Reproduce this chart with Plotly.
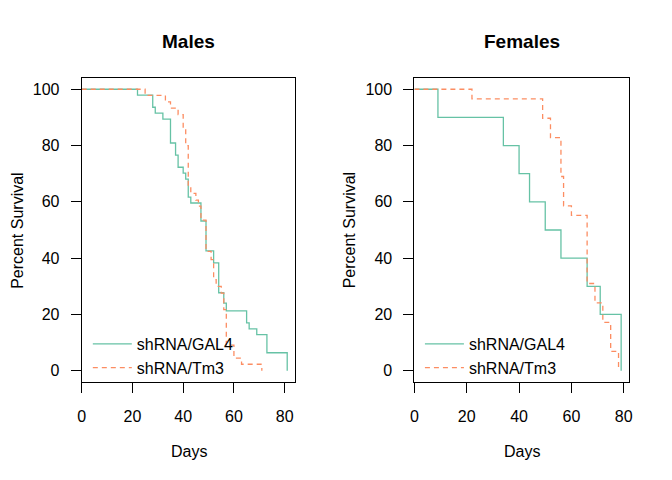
import plotly.graph_objects as go

# ---- data ----
# Males
male_gal4_days = [0, 22, 28, 29, 32, 35, 37, 38, 40, 41, 42, 43, 47, 49, 52, 54, 56, 57, 65, 66, 69, 73, 81]
male_gal4_surv = [100, 97.9, 93.6, 91.5, 89.4, 80.9, 76.6, 72.3, 70.2, 68.1, 61.7, 59.6, 53.2, 42.6, 38.3, 27.7, 24.0, 21.3, 17.0, 14.9, 12.8, 6.4, 0]
male_tm3_days = [0, 25, 33, 35, 38, 40, 41, 42, 43, 45, 46, 47, 49, 51, 52, 53, 55, 56, 57, 60, 63, 71]
male_tm3_surv = [100, 97.8, 95.5, 93.3, 91.0, 86.2, 80.0, 65.6, 63.0, 60.6, 58.5, 53.5, 42.4, 39.5, 32.4, 30.0, 27.6, 21.7, 9.1, 4.5, 2.3, 0]
# Females
female_gal4_days = [0, 9, 34, 40, 44, 50, 56, 66, 71, 79]
female_gal4_surv = [100, 90, 80, 70, 60, 50, 40, 30, 20, 0]
female_tm3_days = [0, 22, 49, 52, 56, 57, 60, 66, 69, 72, 75, 78]
female_tm3_surv = [100, 96.6, 89.7, 82.8, 69.0, 58.6, 55.2, 31.0, 24.1, 17.2, 6.9, 0]

group_names = ["shRNA/GAL4", "shRNA/Tm3"]
panel_titles = ["Males", "Females"]
x_ticks = [0, 20, 40, 60, 80]
y_ticks = [0, 20, 40, 60, 80, 100]

GREEN = "#66C2A5"
ORANGE = "#FC8D62"
FONT = "Liberation Sans, Arial, sans-serif"
W, H = 672, 480

fig = go.Figure()

def add_curve(x, y, name, color, dash, xa, ya, legend):
    fig.add_trace(go.Scatter(
        x=x, y=y, mode="lines", name=name, line_shape="hv",
        line=dict(color=color, width=1.3, dash=dash),
        xaxis=xa, yaxis=ya, legend=legend, hoverinfo="x+y+name"))

add_curve(male_gal4_days, male_gal4_surv, group_names[0], GREEN, "solid", "x", "y", "legend")
add_curve(male_tm3_days, male_tm3_surv, group_names[1], ORANGE, "5px,4px", "x", "y", "legend")
add_curve(female_gal4_days, female_gal4_surv, group_names[0], GREEN, "solid", "x2", "y2", "legend2")
add_curve(female_tm3_days, female_tm3_surv, group_names[1], ORANGE, "5px,4px", "x2", "y2", "legend2")

def px_x(p):
    return p / W

def px_y(p):
    return 1 - p / H

y_dom = [px_y(382), px_y(78)]
male_dom = [px_x(78.5), px_x(294.5)]
female_dom = [px_x(414.7), px_x(632)]

axis_common = dict(
    showline=True, mirror=True, linecolor="black", linewidth=1,
    ticks="outside", ticklen=10, tickwidth=1, tickcolor="black",
    showgrid=False, zeroline=False,
    tickfont=dict(family=FONT, size=16, color="black"),
)

legend_common = dict(
    bgcolor="rgba(0,0,0,0)", borderwidth=0,
    font=dict(family=FONT, size=16, color="black"),
    xanchor="left", yanchor="top", itemwidth=39, tracegroupgap=0,
)

fig.update_layout(
    width=W, height=H,
    margin=dict(l=0, r=0, t=0, b=0),
    paper_bgcolor="white", plot_bgcolor="white",
    font=dict(family=FONT, size=16, color="black"),
    showlegend=True,
    xaxis=dict(domain=male_dom, range=[0, 81 * 1.04], tickvals=x_ticks,
               anchor="y", ticklabelstandoff=10, **axis_common),
    yaxis=dict(domain=y_dom, range=[-4, 104], tickvals=y_ticks,
               anchor="x", ticklabelstandoff=8, **axis_common),
    xaxis2=dict(domain=female_dom, range=[0, 79 * 1.04], tickvals=x_ticks,
                anchor="y2", ticklabelstandoff=10, **axis_common),
    yaxis2=dict(domain=y_dom, range=[-4, 104], tickvals=y_ticks,
                anchor="x2", ticklabelstandoff=8, **axis_common),
    legend=dict(x=px_x(84.7), y=px_y(327), **legend_common),
    legend2=dict(x=px_x(420.3), y=px_y(327), **legend_common),
)

annotations = []
for title, dom in zip(panel_titles, [male_dom, female_dom]):
    cx = (dom[0] + dom[1]) / 2
    annotations.append(dict(text="<b>%s</b>" % title, x=cx, y=px_y(41), xref="paper", yref="paper",
                            xanchor="center", yanchor="middle", showarrow=False,
                            font=dict(family=FONT, size=19, color="black")))
    annotations.append(dict(text="Days", x=cx, y=px_y(451), xref="paper", yref="paper",
                            xanchor="center", yanchor="middle", showarrow=False,
                            font=dict(family=FONT, size=16, color="black")))
for xp in [14, 350]:
    annotations.append(dict(text="Percent Survival", x=px_x(xp), y=(y_dom[0] + y_dom[1]) / 2,
                            xref="paper", yref="paper", xanchor="center", yanchor="middle",
                            textangle=-90, showarrow=False,
                            font=dict(family=FONT, size=16, color="black")))
fig.update_layout(annotations=annotations)

fig.write_html("out.html")
